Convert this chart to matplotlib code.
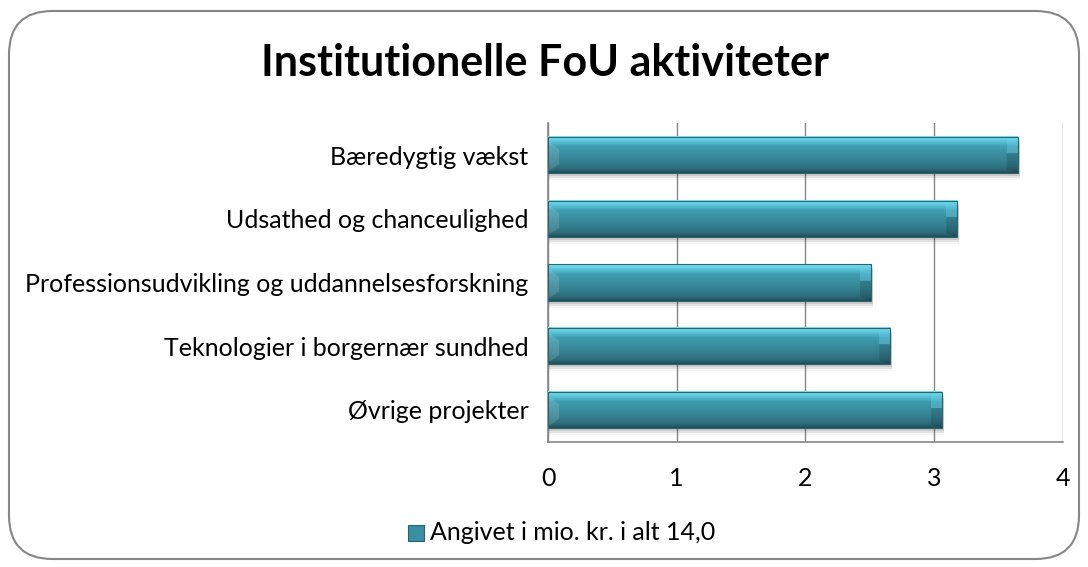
import numpy as np
import matplotlib.pyplot as plt
from matplotlib.colors import LinearSegmentedColormap
from matplotlib.patches import FancyBboxPatch, Polygon, Rectangle

categories = ["Bæredygtig vækst",
              "Udsathed og chanceulighed",
              "Professionsudvikling og uddannelsesforskning",
              "Teknologier i borgernær sundhed",
              "Øvrige projekter"]
values = [3.65, 3.18, 2.51, 2.66, 3.06]
xticks = [0, 1, 2, 3, 4]
legend_label = "Angivet i mio. kr. i alt 14,0"
title = "Institutionelle FoU aktiviteter"

plt.rcParams['font.family'] = ['Lato', 'DejaVu Sans']

fig = plt.figure(figsize=(10.88, 5.67), dpi=100)

# rounded chart border (behind the axes)
border = FancyBboxPatch((9/1088, 8/567), 1070/1088, 548/567,
                        boxstyle="round,pad=0,rounding_size=0.04",
                        transform=fig.transFigure, facecolor='none',
                        edgecolor='#868686', linewidth=1.5,
                        mutation_aspect=1088/567, zorder=-5)
fig.patches.append(border)

ax = fig.add_axes([548/1088, (567-441.7)/567, 514.8/1088, 318.4/567])
ax.set_facecolor('none')

y = np.arange(len(categories))
h = 0.57
bars = ax.barh(y, values, height=h, color='#3a8fa2', edgecolor='none',
               linewidth=0, zorder=3)

# top -> bottom colours of the bar face
face_cmap = LinearSegmentedColormap.from_list(
    'f', [(0.0, '#7be3f5'), (0.12, '#5ec8dc'), (0.28, '#3f9db1'),
          (0.7, '#347f90'), (0.9, '#2c6b79'), (1.0, '#234e58')])

# fake 3d bevel like excel
px_x = 4 / 514.8      # data units per pixel
px_y = 5 / 318.4
bev_x = 11 * px_x
for b in bars:
    x0, w = b.get_x(), b.get_width()
    yt = b.get_y()          # y axis inverted -> visual top
    hh = b.get_height()
    yb = yt + hh
    x1 = x0 + w
    # soft shadow
    for k, a in [(3, 0.10), (5, 0.07), (7, 0.04)]:
        ax.add_patch(Rectangle((x0, yt + k * px_y), w + 2 * px_x, hh,
                               facecolor='#000000', alpha=a, lw=0, zorder=2))
    grad = np.linspace(0, 1, 80).reshape(-1, 1)
    ax.imshow(grad, extent=(x0, x1, yb, yt), cmap=face_cmap, aspect='auto',
              zorder=4, origin='upper', interpolation='bilinear')
    # end bevels
    ax.add_patch(Polygon([(x0, yt + 0.1 * hh), (x0 + bev_x, yt + 0.35 * hh),
                          (x0 + bev_x, yb - 0.25 * hh), (x0, yb - 0.05 * hh)],
                         closed=True, facecolor='#ffffff', alpha=0.13, lw=0, zorder=5))
    ax.add_patch(Polygon([(x1 - bev_x, yt), (x1, yt), (x1, yt + 0.45 * hh),
                          (x1 - bev_x, yt + 0.45 * hh)],
                         closed=True, facecolor='#6fd3e8', alpha=0.35, lw=0, zorder=5))
    ax.add_patch(Polygon([(x1 - bev_x, yt + 0.45 * hh), (x1, yt + 0.45 * hh),
                          (x1, yb), (x1 - bev_x, yb - 0.1 * hh)],
                         closed=True, facecolor='#000000', alpha=0.13, lw=0, zorder=5))
    ax.add_patch(Rectangle((x0, yt), w, hh, facecolor='none',
                           edgecolor='#2a6471', lw=0.8, zorder=6))

ax.set_xlim(0, 4)
ax.set_ylim(len(categories) - 0.5, -0.5)
ax.set_xticks(xticks)
ax.set_xticklabels([str(t) for t in xticks])
ax.set_yticks(y)
ax.set_yticklabels(categories)
ax.xaxis.grid(True, color='#868686', linewidth=1, zorder=0)
ax.set_axisbelow(True)
ax.tick_params(axis='both', length=0, labelsize=18, colors='black')
ax.tick_params(axis='x', pad=18)
ax.tick_params(axis='y', pad=14)
for s in ['top', 'right']:
    ax.spines[s].set_visible(False)
for s in ['left', 'bottom']:
    ax.spines[s].set_color('#868686')
    ax.spines[s].set_linewidth(1.2)

fig.text(545/1088, 1 - 63/567, title, ha='center', va='center',
         fontsize=31, fontweight='bold')

# legend
fig.patches.append(Rectangle((408/1088, 1 - 541/567), 16/1088, 16/567,
                             transform=fig.transFigure, facecolor='#3a8fa2',
                             edgecolor='#2a6471', lw=0.8))
fig.text(430/1088, 1 - 533/567, legend_label, ha='left', va='center', fontsize=18)

fig.savefig('out.png', dpi=100)
